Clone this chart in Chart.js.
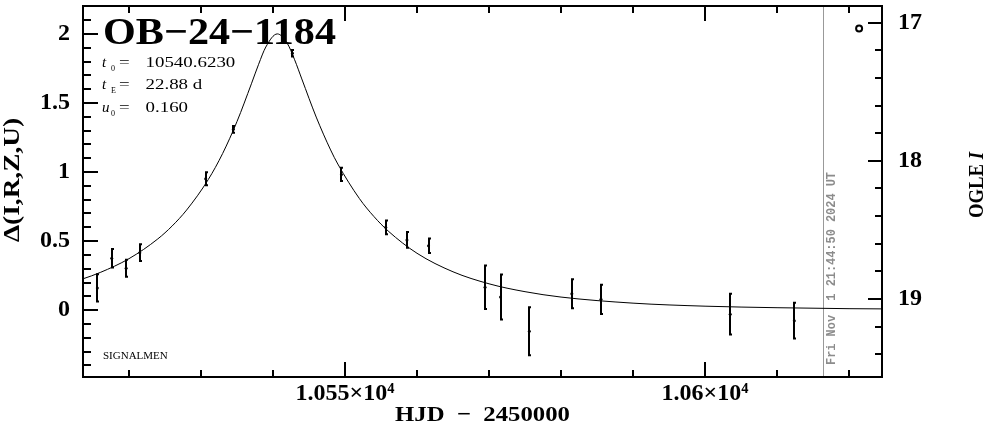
<!DOCTYPE html>
<html>
<head>
<meta charset="utf-8">
<script src="https://cdn.jsdelivr.net/npm/chart.js@4.4.1/dist/chart.umd.min.js"></script>
<style>
  html, body { margin: 0; padding: 0; background: #fff; }
  #wrap { width: 986px; height: 434px; }
</style>
</head>
<body>
<div id="wrap"><canvas id="lc" width="986" height="434"></canvas></div>
<script>
// OGLE points, HJD - 2450000, delta mag and error
var obsT = [10515.6, 10517.6, 10519.6, 10521.5, 10530.65, 10534.5, 10542.7, 10549.5, 10555.65, 10558.6, 10561.6, 10569.45, 10571.6, 10575.6, 10581.5, 10585.55, 10603.5, 10612.4];
var obsDelta = [0.161, 0.376, 0.304, 0.416, 0.952, 1.309, 1.86, 0.983, 0.600, 0.509, 0.466, 0.166, 0.095, -0.153, 0.119, 0.079, -0.029, -0.076];
var obsErr = [0.106, 0.075, 0.069, 0.068, 0.054, 0.032, 0.03, 0.055, 0.057, 0.064, 0.06, 0.164, 0.17, 0.181, 0.113, 0.113, 0.155, 0.137];

// model curve
var modelT = [10512, 10513.6, 10516, 10520, 10524, 10526, 10528, 10531, 10533, 10535, 10537, 10538, 10539, 10540.6, 10542, 10543, 10544, 10546, 10548, 10549, 10552, 10554, 10556, 10560, 10565, 10570, 10575, 10580, 10590, 10600, 10610, 10620, 10626];
var modelDelta = [0.202, 0.227, 0.273, 0.373, 0.516, 0.610, 0.725, 0.945, 1.134, 1.366, 1.639, 1.780, 1.905, 2.000, 1.930, 1.813, 1.674, 1.398, 1.160, 1.058, 0.808, 0.679, 0.573, 0.412, 0.278, 0.191, 0.134, 0.095, 0.051, 0.029, 0.018, 0.011, 0.009];

// the little open circle top right
var markT = [10621.4];
var markDelta = [2.04];

// tick labels
var xLabelTicks = [10550, 10600];
var yLabelTicks = [0, 0.5, 1, 1.5, 2];
var magLabelTicks = [17, 18, 19];

var nowHJD = 10616.4;
var nowText = "Fri Nov  1 21:44:50 2024 UT";

var SERIF = '"Liberation Serif", "DejaVu Serif", serif';

function fitText(ctx, s, x, y, w) {
  var m = ctx.measureText(s).width;
  ctx.save();
  ctx.translate(x, y);
  ctx.scale(w / m, 1);
  ctx.fillText(s, 0, 0);
  ctx.restore();
}

function noPad(s) {
  s.paddingTop = 0; s.paddingBottom = 0; s.paddingLeft = 0; s.paddingRight = 0;
}

// error bars
var errorBars = {
  id: "errorBars",
  afterDatasetsDraw: function (chart) {
    var ctx = chart.ctx, xs = chart.scales.x, ys = chart.scales.y;
    ctx.save();
    ctx.strokeStyle = "#000";
    ctx.lineWidth = 2;
    for (var i = 0; i < obsT.length; i++) {
      var px = Math.round(xs.getPixelForValue(obsT[i]));
      var y1 = ys.getPixelForValue(obsDelta[i] + obsErr[i]);
      var y2 = ys.getPixelForValue(obsDelta[i] - obsErr[i]);
      ctx.beginPath();
      ctx.moveTo(px, y1); ctx.lineTo(px, y2);
      ctx.moveTo(px - 1, y1 + 1); ctx.lineTo(px + 2, y1 + 1);
      ctx.moveTo(px - 1, y2 - 1); ctx.lineTo(px + 2, y2 - 1);
      ctx.stroke();
    }
    ctx.restore();
  }
};

// now line behind the data
var nowLine = {
  id: "nowLine",
  beforeDatasetsDraw: function (chart) {
    var ctx = chart.ctx, a = chart.chartArea;
    var px = Math.round(chart.scales.x.getPixelForValue(nowHJD)) + 0.5;
    ctx.save();
    ctx.strokeStyle = "#999";
    ctx.lineWidth = 1;
    ctx.beginPath();
    ctx.moveTo(px, a.top); ctx.lineTo(px, a.bottom);
    ctx.stroke();
    ctx.fillStyle = "#8c8c8c";
    ctx.font = 'bold 12px "Liberation Mono", "DejaVu Sans Mono", monospace';
    ctx.textBaseline = "middle";
    ctx.translate(px + 8, 365);
    ctx.rotate(-Math.PI / 2);
    fitText(ctx, nowText, 0, 0, 193);
    ctx.restore();
  }
};

// frame, inward ticks and all the extra text
var frame = {
  id: "frame",
  afterDraw: function (chart) {
    var ctx = chart.ctx, a = chart.chartArea;
    var xs = chart.scales.x, ys = chart.scales.y, ms = chart.scales.mag;
    var v, p, len;
    ctx.save();
    ctx.strokeStyle = "#000";
    ctx.lineWidth = 2;
    ctx.beginPath();
    for (v = 10520; v <= 10620; v += 10) {
      p = Math.round(xs.getPixelForValue(v));
      len = v % 50 === 0 ? 15 : 7;
      ctx.moveTo(p, a.bottom); ctx.lineTo(p, a.bottom - len);
      ctx.moveTo(p, a.top); ctx.lineTo(p, a.top + len);
    }
    for (v = -4; v <= 22; v++) {
      p = Math.round(ys.getPixelForValue(v / 10));
      len = v % 5 === 0 ? 15 : 8;
      ctx.moveTo(a.left, p); ctx.lineTo(a.left + len, p);
    }
    for (v = 85; v <= 97; v++) {
      p = Math.round(ms.getPixelForValue(v / 5));
      len = v % 5 === 0 ? 14 : 7;
      ctx.moveTo(a.right, p); ctx.lineTo(a.right - len, p);
    }
    ctx.stroke();
    ctx.strokeRect(a.left, a.top, a.right - a.left, a.bottom - a.top);

    ctx.fillStyle = "#000";
    ctx.textBaseline = "alphabetic";
    ctx.textAlign = "left";

    // event name
    ctx.font = "bold 38px " + SERIF;
    fitText(ctx, "OB\u221224\u22121184", 103, 43.5, 233);

    // fit parameters
    var params = [["t", "0", "10540.6230", 66.5], ["t", "E", "22.88 d", 89.3], ["u", "0", "0.160", 111.7]];
    params.forEach(function (r) {
      ctx.font = "italic 15px " + SERIF;
      ctx.fillText(r[0], 102, r[3]);
      ctx.font = "8px " + SERIF;
      ctx.fillText(r[1], 111, r[3] + 4);
      ctx.font = "14px " + SERIF;
      ctx.save();
      ctx.translate(119, r[3]);
      ctx.scale(1.35, 1);
      ctx.fillText("=", 0, 0);
      ctx.fillText(r[2], (145.5 - 119) / 1.35, 0);
      ctx.restore();
    });

    ctx.font = "11px " + SERIF;
    ctx.fillText("SIGNALMEN", 103, 359);

    // axis titles
    ctx.font = "bold 24px " + SERIF;
    ctx.textBaseline = "middle";
    ctx.save();
    ctx.translate(13, 242);
    ctx.rotate(-Math.PI / 2);
    fitText(ctx, "\u0394(I,R,Z,U)", 0, 0, 124);
    ctx.restore();

    ctx.font = "bold 22px " + SERIF;
    var w1 = ctx.measureText("OGLE ").width;
    ctx.font = "bold italic 22px " + SERIF;
    var w2 = ctx.measureText("I").width;
    var k = 66 / (w1 + w2);
    ctx.save();
    ctx.translate(977, 218);
    ctx.rotate(-Math.PI / 2);
    ctx.scale(k, 1);
    ctx.font = "bold 22px " + SERIF;
    ctx.fillText("OGLE ", 0, 0);
    ctx.font = "bold italic 22px " + SERIF;
    ctx.fillText("I", w1, 0);
    ctx.restore();

    ctx.font = "bold 22px " + SERIF;
    fitText(ctx, "HJD  \u2212  2450000", 395, 415, 175);
    ctx.restore();
  }
};

window.addEventListener("DOMContentLoaded", function () {
  var tickFont = { family: SERIF, size: 24, weight: "bold" };
  new Chart(document.getElementById("lc"), {
    type: "scatter",
    data: {
      datasets: [
        {
          data: modelT.map(function (t, i) { return { x: t, y: modelDelta[i] }; }),
          showLine: true,
          borderColor: "#000",
          borderWidth: 1,
          pointRadius: 0,
          cubicInterpolationMode: "monotone",
          yAxisID: "y"
        },
        {
          data: obsT.map(function (t, i) { return { x: t, y: obsDelta[i] }; }),
          pointRadius: 1.5,
          backgroundColor: "#000",
          borderColor: "#000",
          borderWidth: 0,
          yAxisID: "y"
        },
        {
          data: markT.map(function (t, i) { return { x: t, y: markDelta[i] }; }),
          pointRadius: 3,
          backgroundColor: "#fff",
          borderColor: "#000",
          borderWidth: 2,
          yAxisID: "y"
        }
      ]
    },
    options: {
      responsive: false,
      animation: false,
      devicePixelRatio: 1,
      layout: { padding: { top: 1, left: 0, right: 0, bottom: 0 } },
      plugins: { legend: { display: false }, tooltip: { enabled: false } },
      scales: {
        x: {
          type: "linear",
          position: "bottom",
          min: 10513.61,
          max: 10624.58,
          grid: { display: false, drawTicks: false },
          border: { display: false },
          afterBuildTicks: function (s) { s.ticks = xLabelTicks.map(function (v) { return { value: v }; }); },
          afterFit: function (s) { s.height = 57; noPad(s); },
          ticks: {
            font: tickFont,
            color: "#000",
            padding: 2,
            maxRotation: 0,
            callback: function (v) { return String(v / 1e4) + "\u00d710\u2074"; }
          }
        },
        y: {
          type: "linear",
          position: "left",
          min: -0.4836,
          max: 2.202,
          grid: { display: false, drawTicks: false },
          border: { display: false },
          afterBuildTicks: function (s) { s.ticks = yLabelTicks.map(function (v) { return { value: v }; }); },
          afterFit: function (s) { s.width = 83; noPad(s); },
          ticks: { font: tickFont, color: "#000", padding: 13, callback: function (v) { return String(v); } }
        },
        mag: {
          type: "linear",
          position: "right",
          reverse: true,
          min: 16.879,
          max: 19.5646,
          grid: { display: false, drawTicks: false },
          border: { display: false },
          afterBuildTicks: function (s) { s.ticks = magLabelTicks.map(function (v) { return { value: v }; }); },
          afterFit: function (s) { s.width = 104; noPad(s); },
          ticks: { font: tickFont, color: "#000", padding: 16, callback: function (v) { return String(v); } }
        }
      }
    },
    plugins: [nowLine, errorBars, frame]
  });
});
</script>
</body>
</html>
